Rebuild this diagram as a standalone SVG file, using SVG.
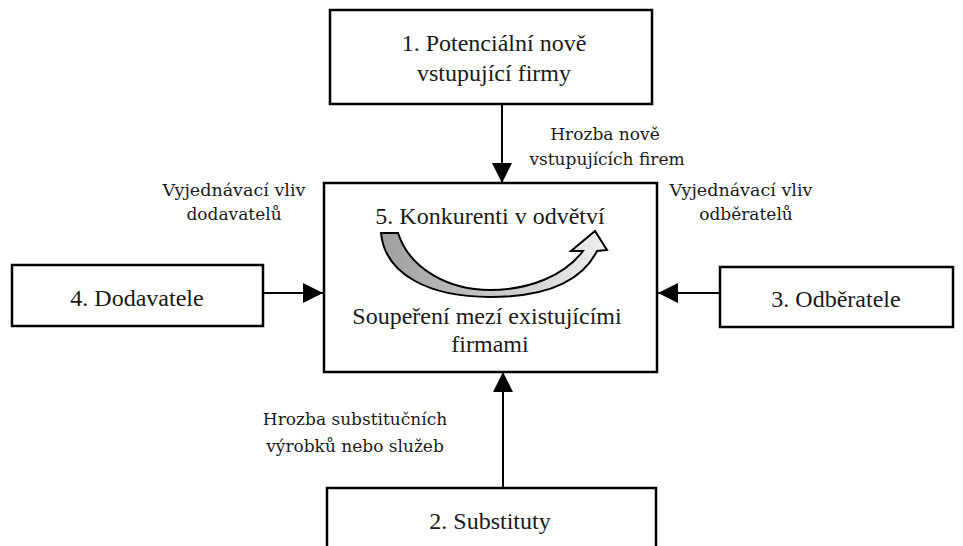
<svg xmlns="http://www.w3.org/2000/svg" width="963" height="546" viewBox="0 0 963 546">
<style>
.box{fill:#fff;stroke:#000;stroke-width:2.5}
.con{stroke:#000;stroke-width:2;fill:none}
</style>
<defs>
<marker id="ahb" viewBox="0 0 20 20" refX="20" refY="10" markerWidth="20" markerHeight="20" markerUnits="userSpaceOnUse" orient="auto"><path d="M0,0 L20,10 L0,20 Z" fill="#000"/></marker>
<linearGradient id="g" x1="0" y1="0" x2="1" y2="0"><stop offset="0" stop-color="#9e9e9e"/><stop offset="1" stop-color="#f0f0f0"/></linearGradient>
</defs>
<rect width="963" height="546" fill="#fff"/>
<g id="connectors">
<line class="con" x1="502" y1="104" x2="502" y2="183" marker-end="url(#ahb)"/>
<line class="con" x1="263" y1="293" x2="323" y2="293" marker-end="url(#ahb)"/>
<line class="con" x1="720" y1="293" x2="658" y2="293" marker-end="url(#ahb)"/>
<line class="con" x1="503" y1="488" x2="503" y2="372" marker-end="url(#ahb)"/>
</g>
<g id="n1"><rect class="box" x="330" y="10" width="322" height="94"/>
<text font-family="Liberation Serif" font-size="24" fill="#1a1a1a" text-anchor="middle" x="494" y="51">1. Potenciální nově</text>
<text font-family="Liberation Serif" font-size="24" fill="#1a1a1a" text-anchor="middle" x="494" y="81">vstupující firmy</text></g>
<g id="n5"><rect class="box" x="324" y="183" width="333" height="189"/>
<text font-family="Liberation Serif" font-size="24" fill="#1a1a1a" text-anchor="middle" x="490" y="224">5. Konkurenti v odvětví</text>
<path d="M381,233 L398,233 C410,270 450,290 490,290 C530,290 565,275 583,251 L571,251 L595,231 L607,250 L597,251 C580,285 540,297 490,297 C430,297 385,275 381,233 Z" fill="url(#g)" stroke="#000" stroke-width="2" stroke-linejoin="miter"/>
<text font-family="Liberation Serif" font-size="24" fill="#1a1a1a" text-anchor="middle" x="487" y="324">Soupeření mezí existujícími</text>
<text font-family="Liberation Serif" font-size="24" fill="#1a1a1a" text-anchor="middle" x="490" y="352">firmami</text></g>
<g id="n4"><rect class="box" x="12" y="265" width="251" height="61"/>
<text font-family="Liberation Serif" font-size="24" fill="#1a1a1a" text-anchor="middle" x="137" y="306">4. Dodavatele</text></g>
<g id="n3"><rect class="box" x="720" y="267" width="233" height="60"/>
<text font-family="Liberation Serif" font-size="24" fill="#1a1a1a" text-anchor="middle" x="836" y="307">3. Odběratele</text></g>
<g id="n2"><rect class="box" x="327" y="488" width="329" height="70"/>
<text font-family="Liberation Serif" font-size="24" fill="#1a1a1a" text-anchor="middle" x="490" y="529">2. Substituty</text></g>
<g id="labels">
<text font-family="DejaVu Serif" font-size="17" fill="#1a1a1a" text-anchor="middle" x="605" y="140">Hrozba nově</text>
<text font-family="DejaVu Serif" font-size="17" fill="#1a1a1a" text-anchor="middle" x="607" y="165">vstupujících firem</text>
<text font-family="DejaVu Serif" font-size="17.5" fill="#1a1a1a" text-anchor="middle" x="234" y="196">Vyjednávací vliv</text>
<text font-family="DejaVu Serif" font-size="17" fill="#1a1a1a" text-anchor="middle" x="234" y="220">dodavatelů</text>
<text font-family="DejaVu Serif" font-size="17.5" fill="#1a1a1a" text-anchor="middle" x="741" y="196">Vyjednávací vliv</text>
<text font-family="DejaVu Serif" font-size="17" fill="#1a1a1a" text-anchor="middle" x="746" y="220">odběratelů</text>
<text font-family="DejaVu Serif" font-size="17" fill="#1a1a1a" text-anchor="middle" x="355" y="425">Hrozba substitučních</text>
<text font-family="DejaVu Serif" font-size="17" fill="#1a1a1a" text-anchor="middle" x="355" y="452">výrobků nebo služeb</text>
</g>
</svg>
